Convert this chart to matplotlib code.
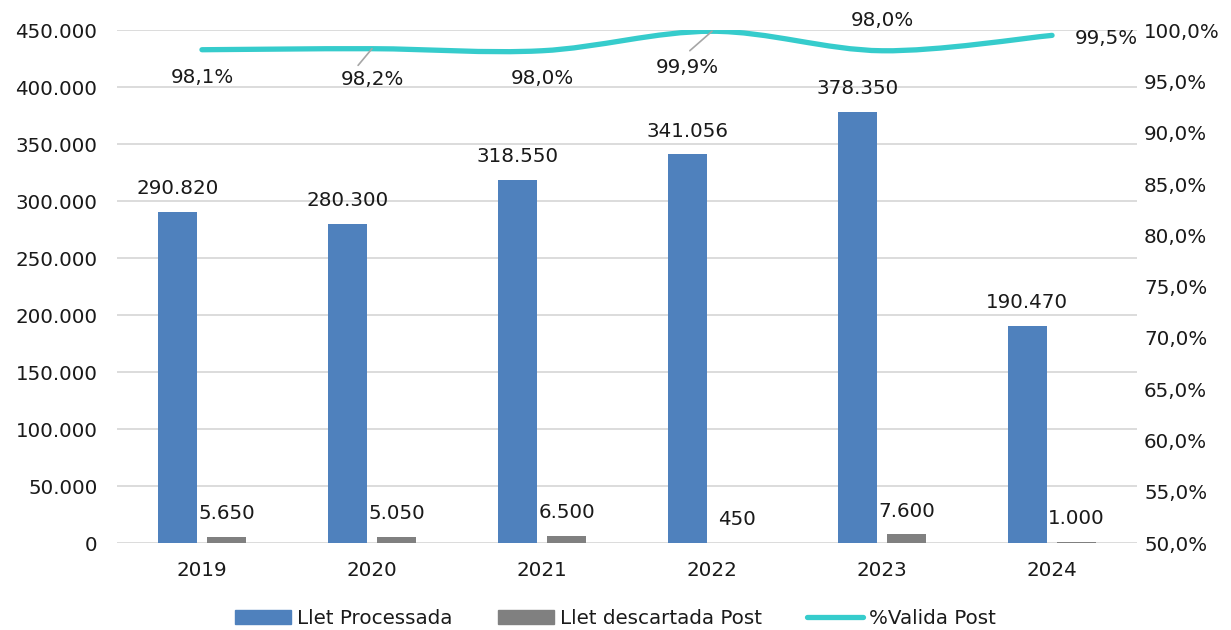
import matplotlib.pyplot as plt
import numpy as np
from matplotlib.path import Path
from matplotlib.patches import PathPatch, Patch
from matplotlib.ticker import FuncFormatter, MultipleLocator

years = ["2019", "2020", "2021", "2022", "2023", "2024"]
processada = [290820, 280300, 318550, 341056, 378350, 190470]
descartada = [5650, 5050, 6500, 450, 7600, 1000]
valida_pct = [98.1, 98.2, 98.0, 99.9, 98.0, 99.5]

BLUE = "#4F81BD"
GREY = "#808080"
TEAL = "#36CCCC"
TEXT = "#1a1a1a"
GRID = "#D9D9D9"
FS = 14.3

plt.rcParams["font.family"] = ["DejaVu Sans"]
plt.rcParams["font.size"] = FS


def thousands(v):
    return f"{int(round(v)):,}".replace(",", ".")


def pct(v):
    return f"{v:.1f}%".replace(".", ",")


fig = plt.figure(figsize=(12.31, 6.30), dpi=100)
ax = fig.add_axes([0.095, 0.138, 0.8287, 0.814])
x = np.arange(len(years))
w = 0.23
off = 0.145

ax.bar(x - off, processada, w, color=BLUE, zorder=2)
ax.bar(x + off, descartada, w, color=GREY, zorder=2)

ax.set_xlim(-0.5, len(years) - 0.5)
ax.set_ylim(0, 450000)
ax.yaxis.set_major_locator(MultipleLocator(50000))
ax.yaxis.set_major_formatter(FuncFormatter(lambda v, p: thousands(v)))
ax.set_xticks(x, years)
ax.grid(axis="y", color=GRID, lw=1.3, zorder=0)
ax.set_axisbelow(True)
for s in ax.spines.values():
    s.set_visible(False)
ax.tick_params(length=0, colors=TEXT, labelsize=FS)
ax.tick_params(axis="x", pad=13)
ax.tick_params(axis="y", pad=14)

for i in range(len(years)):
    ax.annotate(thousands(processada[i]), (x[i] - off, processada[i]), xytext=(0, 10),
                textcoords="offset points", ha="center", va="bottom", color=TEXT, fontsize=FS)
    ax.annotate(thousands(descartada[i]), (x[i] + off, descartada[i]), xytext=(0, 10),
                textcoords="offset points", ha="center", va="bottom", color=TEXT, fontsize=FS)

# secondary axis: percentage line (smoothed)
ax2 = ax.twinx()
ax2.set_ylim(50, 100)
ax2.yaxis.set_major_locator(MultipleLocator(5))
ax2.yaxis.set_major_formatter(FuncFormatter(lambda v, p: pct(v)))
for s in ax2.spines.values():
    s.set_visible(False)
ax2.tick_params(length=0, colors=TEXT, labelsize=FS, pad=5)

pts = np.column_stack([x, valida_pct]).astype(float)
ext = np.vstack([pts[0], pts, pts[-1]])
verts = [tuple(pts[0])]
codes = [Path.MOVETO]
for i in range(1, len(ext) - 2):
    p0, p1, p2, p3 = ext[i - 1], ext[i], ext[i + 1], ext[i + 2]
    c1 = p1 + (p2 - p0) / 6
    c2 = p2 - (p3 - p1) / 6
    verts += [tuple(c1), tuple(c2), tuple(p2)]
    codes += [Path.CURVE4] * 3
ax2.add_patch(PathPatch(Path(verts, codes), fill=False, edgecolor=TEAL, lw=3.8,
                        capstyle="round", zorder=3))
line_handle = ax2.plot([], [], color=TEAL, lw=3.8, solid_capstyle="round")[0]

# percentage labels (positions as placed in the original)
lab_off = [(0, -20), (0, -22), (0, -20), (-18, -26), (0, 22), (39, -2)]
for i, (dx, dy) in enumerate(lab_off):
    ax2.annotate(pct(valida_pct[i]), (x[i], valida_pct[i]), xytext=(dx, dy),
                 textcoords="offset points", ha="center", va="center", color=TEXT, fontsize=FS)
for i, (sx, sy) in {1: (-10, -12), 3: (-16, -14)}.items():
    ax2.annotate("", (x[i], valida_pct[i]), xytext=(sx, sy), textcoords="offset points",
                 arrowprops=dict(arrowstyle="-", color="#A6A6A6", lw=1.2, shrinkA=0, shrinkB=0))

handles = [Patch(color=BLUE), Patch(color=GREY), line_handle]
labels = ["Llet Processada", "Llet descartada Post", "%Valida Post"]
fig.legend(handles, labels, loc="lower center", bbox_to_anchor=(0.5, -0.025), ncol=3,
           frameon=False, fontsize=FS, handlelength=2.8, handleheight=0.7,
           columnspacing=2.3, handletextpad=0.3, labelcolor=TEXT)

fig.savefig("out.png", dpi=100)
